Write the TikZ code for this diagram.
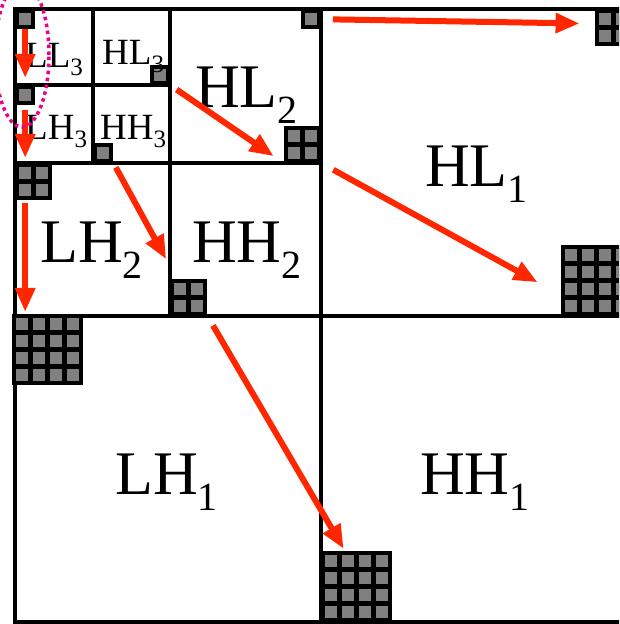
\documentclass[tikz,border=0pt]{standalone}
\usepackage{fontspec}
\setmainfont{Liberation Serif}
\usetikzlibrary{arrows.meta}
\definecolor{arrowred}{RGB}{255,38,0}
\newcommand{\bandI}[2]{#1\raisebox{-16pt}{\fontsize{40}{40}\selectfont #2}}
\newcommand{\bandIII}[2]{#1\raisebox{-8pt}{\fontsize{25}{25}\selectfont #2}}
\newcommand{\cells}[2]{\foreach \i in {1,...,#2} \foreach \j in {1,...,#2}
  \fill[gray] ([xshift=\i*17pt-13pt,yshift=-\j*17pt+13pt]#1.north west) rectangle ++(12pt,-12pt);}
\begin{document}
\begin{tikzpicture}
[x=1pt,y=1pt,
edge/.style={line width=3.5pt},
blk/.style={rectangle,fill=black,inner sep=0pt,minimum size=17pt*#1+3pt},
band/.style={anchor=base west,inner sep=0pt,font=\fontsize{62}{62}\selectfont},
subband/.style={anchor=base west,inner sep=0pt,font=\fontsize{37}{37}\selectfont},
link/.style={arrowred,line width=6pt,-{Triangle[length=24pt,width=19pt]}}]
\useasboundingbox (0,0) rectangle (619,624);
\clip (0,0) rectangle (619,624);
\draw[edge] (15,2) rectangle (632,615);
\draw[edge] (321,2) -- (321,615);
\draw[edge] (15,308) -- (632,308);
\draw[edge] (170,308) -- (170,615);
\draw[edge] (15,461) -- (321,461);
\draw[edge] (93,461) -- (93,615);
\draw[edge] (15,539) -- (170,539);
\node[blk=1,anchor=north west] (ll3) at (15,615) {};
\node[blk=1,anchor=north west] (lh3) at (15,539) {};
\node[blk=1,anchor=south east] (hl3) at (170,539) {};
\node[blk=1,anchor=south west] (hh3) at (93,461) {};
\node[blk=1,anchor=north east] (hl2a) at (321,615) {};
\node[blk=2,anchor=south east] (hl2) at (321,461) {};
\node[blk=2,anchor=north west] (lh2) at (15,461) {};
\node[blk=2,anchor=south west] (hh2) at (170,308) {};
\node[blk=2,anchor=north east] (hl1a) at (632,615) {};
\node[blk=4,anchor=south east] (hl1) at (632,308) {};
\node[blk=4,anchor=north west] (lh1) at (12,310) {};
\node[blk=4,anchor=south west] (hh1) at (321,2) {};
\foreach \b/\n in {ll3/1,lh3/1,hl3/1,hh3/1,hl2a/1,hl2/2,lh2/2,hh2/2,hl1a/2,hl1/4,lh1/4,hh1/4}
  \cells{\b}{\n};
\node[subband] (tll3) at (25,556) {\bandIII{LL}{3}};
\node[subband] (thl3) at (102,559) {\bandIII{HL}{3}};
\node[subband] (tlh3) at (25,484) {\bandIII{LH}{3}};
\node[subband] (thh3) at (100,484) {\bandIII{HH}{3}};
\node[band] (thl2) at (195,516) {\bandI{HL}{2}};
\node[band] (tlh2) at (40,361) {\bandI{LH}{2}};
\node[band] (thh2) at (192,361) {\bandI{HH}{2}};
\node[band] (thl1) at (425,437) {\bandI{HL}{1}};
\node[band] (tlh1) at (115,129) {\bandI{LH}{1}};
\node[band] (thh1) at (420,129) {\bandI{HH}{1}};
\draw[link,shorten >=7pt] (ll3.south) -- (lh3.north);
\draw[link,shorten <=5pt,shorten >=5pt] (lh3.south) -- (lh3.south |- lh2.north);
\draw[link,shorten <=3pt,shorten >=2pt] (lh3.south |- lh2.south) -- (lh3.south |- lh1.north);
\draw[link,shorten <=5pt,shorten >=22pt] (hh3.south east) -- ([xshift=-12pt]hh2.north);
\draw[link,shorten <=8pt,shorten >=12pt] (hl3.south east) -- (hl2.south west);
\draw[link,shorten <=12pt,shorten >=15pt] (hl2a.east) -- ([yshift=4pt]hl1a.west);
\draw[link,shorten <=14pt] (hl2.south east) -- ([xshift=-23pt,yshift=-2pt]hl1.west);
\draw[link,shorten <=11pt,shorten >=2pt] (hh2.south east) -- ([xshift=-12pt]hh1.north);
\draw[magenta,line width=3.5pt,dash pattern=on 3.5pt off 3.5pt] (22,569) ellipse [x radius=27,y radius=72];
\end{tikzpicture}
\end{document}
